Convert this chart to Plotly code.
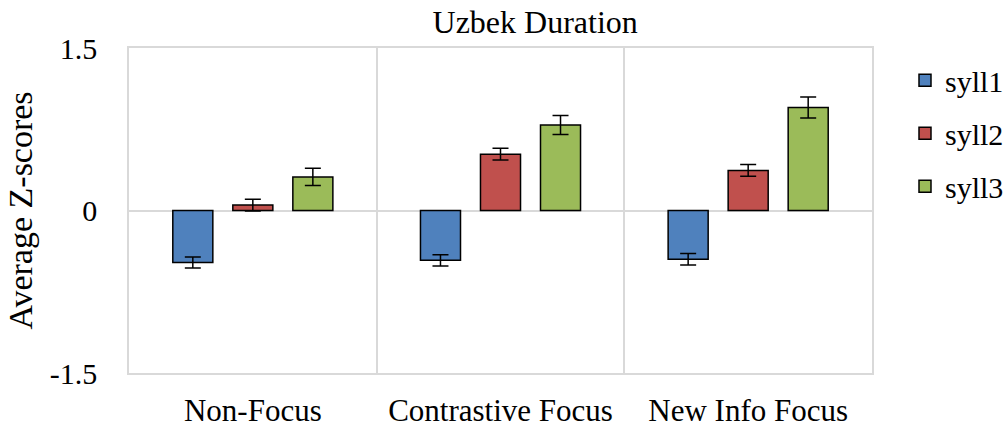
import plotly.graph_objects as go

categories = ["Non-Focus", "Contrastive Focus", "New Info Focus"]
series_names = ["syll1", "syll2", "syll3"]
syll1 = [-0.48, -0.46, -0.45]
syll2 = [0.05, 0.52, 0.37]
syll3 = [0.31, 0.79, 0.95]
err1 = [0.051, 0.052, 0.052]
err2 = [0.055, 0.054, 0.054]
err3 = [0.08, 0.088, 0.097]
colors = ["#4f81bd", "#c0504d", "#9bbb59"]
y_ticks = [-1.5, 0, 1.5]
y_tick_labels = ["-1.5", "0", "1.5"]

serif = "Liberation Serif, Times New Roman, serif"

fig = go.Figure()
for name, vals, errs, col in zip(series_names, [syll1, syll2, syll3], [err1, err2, err3], colors):
    fig.add_trace(go.Bar(
        x=categories, y=vals, name=name, legendgroup=name,
        marker=dict(color=col, line=dict(color="black", width=1.5)),
        error_y=dict(type="data", array=errs, visible=True, color="black", thickness=1.5, width=8),
    ))

fig.update_layout(
    width=1006, height=428,
    margin=dict(l=129, r=134, t=48, b=55, autoexpand=False),
    paper_bgcolor="white", plot_bgcolor="white",
    barmode="group", bargap=0.273, bargroupgap=0.333,
    font=dict(family=serif, color="black"),
    showlegend=True,
)
fig.layout.title = dict(text="Uzbek Duration", xref="container", x=0.532, xanchor="center",
                        yref="container", y=0.95, yanchor="middle",
                        font=dict(family=serif, size=32, color="black"))
fig.layout.legend = dict(xref="container", x=0.8996, xanchor="left",
                         yref="container", y=0.873, yanchor="top",
                         font=dict(family=serif, size=30, color="black"),
                         bgcolor="rgba(0,0,0,0)", tracegroupgap=11)

fig.update_xaxes(
    automargin=False,
    tickson="boundaries", showgrid=True, gridcolor="#d9d9d9", gridwidth=1.5,
    showline=True, linecolor="#d9d9d9", linewidth=1.5, mirror=True,
    ticks="", tickfont=dict(family=serif, size=31, color="black"), ticklabelstandoff=9,
)
fig.update_yaxes(
    automargin=False,
    range=[-1.5, 1.5], tickvals=y_ticks, ticktext=y_tick_labels,
    showgrid=True, gridcolor="#d9d9d9", gridwidth=1.5,
    zeroline=True, zerolinecolor="#d9d9d9", zerolinewidth=1.5,
    showline=True, linecolor="#d9d9d9", linewidth=1.5, mirror=True,
    ticks="", tickfont=dict(family=serif, size=30, color="black"), ticklabelstandoff=24,
    title=dict(text="Average Z-scores", font=dict(family=serif, size=34, color="black"), standoff=7),
)

fig.write_html("out.html", config={"displayModeBar": False},
               post_script="document.body.style.margin='0px';")
